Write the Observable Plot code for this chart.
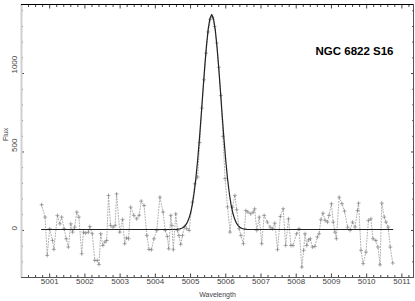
<!DOCTYPE html>
<html>
<head>
<meta charset="utf-8">
<script src="https://cdn.jsdelivr.net/npm/d3@7"></script>
<script src="https://cdn.jsdelivr.net/npm/@observablehq/plot@0.6"></script>
<style>
  html, body { margin: 0; padding: 0; background: #fff; }
</style>
</head>
<body>
<div id="chart"></div>
<script>
// Observed spectrum (wavelength in Å, flux)
const wave = [
  5000.77, 5000.87, 5000.93, 5001.00, 5001.08, 5001.12, 5001.22, 5001.29, 5001.34, 5001.41,
  5001.47, 5001.53, 5001.60, 5001.65, 5001.71, 5001.77, 5001.83, 5001.91, 5001.96, 5002.02,
  5002.10, 5002.14, 5002.21, 5002.28, 5002.35, 5002.40, 5002.45, 5002.51, 5002.57, 5002.62,
  5002.67, 5002.73, 5002.80, 5002.86, 5002.90, 5002.99, 5003.07, 5003.13, 5003.18, 5003.24,
  5003.30, 5003.39, 5003.47, 5003.54, 5003.60, 5003.68, 5003.76, 5003.82, 5003.89, 5003.96,
  5004.04, 5004.13, 5004.22, 5004.28, 5004.34, 5004.38, 5004.44, 5004.47, 5004.51, 5004.58,
  5004.63, 5004.67, 5004.72, 5004.77, 5004.83, 5004.89, 5004.96, 5005.05, 5005.12, 5005.20,
  5005.26, 5005.32, 5005.38, 5005.44, 5005.50, 5005.56, 5005.62, 5005.68, 5005.74, 5005.80,
  5005.86, 5005.92, 5005.98, 5006.05, 5006.12, 5006.19, 5006.26, 5006.31, 5006.38, 5006.43,
  5006.50, 5006.57, 5006.63, 5006.71, 5006.78, 5006.82, 5006.88, 5006.95, 5007.02, 5007.09,
  5007.18, 5007.26, 5007.33, 5007.39, 5007.47, 5007.55, 5007.63, 5007.70, 5007.78, 5007.85,
  5007.91, 5008.01, 5008.08, 5008.16, 5008.21, 5008.25, 5008.30, 5008.35, 5008.40, 5008.46,
  5008.53, 5008.60, 5008.65, 5008.70, 5008.76, 5008.82, 5008.89, 5008.93, 5009.00, 5009.05,
  5009.10, 5009.14, 5009.22, 5009.30, 5009.37, 5009.46, 5009.53, 5009.60, 5009.67, 5009.74,
  5009.77, 5009.84, 5009.90, 5009.98, 5010.05, 5010.12, 5010.18, 5010.26, 5010.32, 5010.38,
  5010.43, 5010.50, 5010.55, 5010.61, 5010.67, 5010.74
];
const flux = [
  164, 85, -159, 11, -64, -121, 96, 42, 85, 11,
  -53, -106, 42, -11, 21, 117, 85, -149, -11, -17,
  -11, 25, -21, -191, -191, -217, -21, -96, -74, -64,
  223, 32, 21, 32, 233, -11, 70, -85, -47, -53,
  148, 96, 74, 96, 187, 159, -32, -121, -123, -53,
  0, 212, 117, 0, -38, -117, 96, 32, -123, 106,
  0, -32, -89, -32, 25, 11, 0, 180, 297, 340,
  560, 780, 960, 1130, 1265, 1345, 1360, 1300, 1195, 1040,
  860, 600, 330, 150, -11, 148, 223, 132, 11, -32,
  -85, 127, 117, 106, 117, 138, 0, 85, -85, 96,
  53, 21, 11, 46, -123, 89, 138, -96, 74, -96,
  -96, -21, 11, -234, -127, -21, -96, -60, -53, -106,
  -102, -42, -21, 68, 110, 64, 53, 96, 170, 53,
  -11, -53, 212, 170, 123, 21, 0, 53, 21, 127,
  174, -127, -212, -138, 64, 74, -53, -64, -106, -219,
  174, 85, 53, 21, -106, -208
];

// Fitted profile
const fitWave = [
  5000.77, 5004.50, 5004.60, 5004.70, 5004.75, 5004.80, 5004.85, 5004.90, 5004.95, 5005.00,
  5005.05, 5005.10, 5005.15, 5005.20, 5005.25, 5005.30, 5005.35, 5005.40, 5005.45, 5005.50,
  5005.55, 5005.60, 5005.65, 5005.70, 5005.75, 5005.80, 5005.85, 5005.90, 5005.95, 5006.00,
  5006.05, 5006.10, 5006.15, 5006.20, 5006.25, 5006.30, 5006.35, 5006.40, 5006.45, 5006.50,
  5006.60, 5006.70, 5010.74
];
const fitFlux = [
  6, 6, 7, 10, 14, 20, 31, 48, 74, 111,
  165, 237, 330, 444, 579, 728, 884, 1036, 1173, 1282,
  1351, 1376, 1351, 1282, 1173, 1036, 884, 728, 579, 444,
  330, 237, 165, 111, 74, 48, 31, 20, 14, 10,
  7, 6, 6
];

// Axis ticks and labels
const xMajor = [5001, 5002, 5003, 5004, 5005, 5006, 5007, 5008, 5009, 5010, 5011];
const yMajor = [0, 500, 1000];
const xDomain = [5000.2, 5011.33];
const yDomain = [-300, 1440];
const titleText = "NGC 6822 S16";
const xLabel = "Wavelength";
const yLabel = "Flux";

const points = wave.map((w, i) => ({w, f: flux[i]}));
const fit = fitWave.map((w, i) => ({w, f: fitFlux[i]}));
const xMinor = d3.range(5000.2, 5011.3, 0.2).map(v => +v.toFixed(1)).filter(v => Math.abs(v - Math.round(v)) > 0.01);
const yMinor = d3.range(-200, 1401, 100).filter(v => v % 500 !== 0);

const font = "Liberation Sans, Arial, sans-serif";

const chart = Plot.plot({
  width: 415,
  height: 301,
  marginLeft: 21,
  marginRight: 2,
  marginTop: 4,
  marginBottom: 24,
  style: {background: "#fff", fontFamily: font, fontSize: "8px", color: "#666"},
  x: {domain: xDomain, axis: null},
  y: {domain: yDomain, axis: null},
  marks: [
    // tick marks pointing inward on all four sides
    Plot.axisX({anchor: "bottom", ticks: xMajor, tickSize: -3.5, tickFormat: () => "", label: null, stroke: "#444"}),
    Plot.axisX({anchor: "bottom", ticks: xMinor, tickSize: -2, tickFormat: () => "", label: null, stroke: "#444"}),
    Plot.axisX({anchor: "top", ticks: xMajor, tickSize: -3.5, tickFormat: () => "", label: null, stroke: "#444"}),
    Plot.axisX({anchor: "top", ticks: xMinor, tickSize: -2, tickFormat: () => "", label: null, stroke: "#444"}),
    Plot.axisY({anchor: "left", ticks: yMajor, tickSize: -3, tickFormat: () => "", label: null, stroke: "#444"}),
    Plot.axisY({anchor: "left", ticks: yMinor, tickSize: -1.8, tickFormat: () => "", label: null, stroke: "#444"}),
    Plot.axisY({anchor: "right", ticks: yMajor, tickSize: -3, tickFormat: () => "", label: null, stroke: "#444"}),
    Plot.axisY({anchor: "right", ticks: yMinor, tickSize: -1.8, tickFormat: () => "", label: null, stroke: "#444"}),
    Plot.frame({stroke: "#555"}),
    Plot.ruleX([xDomain[0]], {stroke: "#d0d0d0", strokeWidth: 2}),
    Plot.ruleY([yDomain[1]], {stroke: "#000", strokeWidth: 1}),
    // tick labels
    Plot.text(xMajor, {x: d => d, text: d => String(d), frameAnchor: "bottom", dy: 6, fill: "#444", fontSize: 8}),
    Plot.text(yMajor, {y: d => d, text: d => String(d), frameAnchor: "left", dx: -7, rotate: -90, fill: "#444", fontSize: 8}),
    // axis titles
    Plot.text([xLabel], {text: d => d, frameAnchor: "bottom", dy: 19, fill: "#444", fontSize: 7}),
    Plot.text([yLabel], {text: d => d, frameAnchor: "left", dx: -16, rotate: -90, fill: "#444", fontSize: 7}),
    // data
    Plot.line(points, {x: "w", y: "f", stroke: "#999", strokeWidth: 0.8, strokeDasharray: "1,1.8"}),
    Plot.dot(points, {x: "w", y: "f", symbol: "plus", r: 1.4, stroke: "#777", strokeWidth: 0.6}),
    Plot.line(fit, {x: "w", y: "f", stroke: "#222", strokeWidth: 1.2}),
    // title
    Plot.text([titleText], {text: d => d, frameAnchor: "top-right", dx: -20, dy: 42, textAnchor: "end", fontWeight: "bold", fontSize: 11.5, fill: "#000"})
  ]
});
document.getElementById("chart").appendChild(chart);
</script>
</body>
</html>
